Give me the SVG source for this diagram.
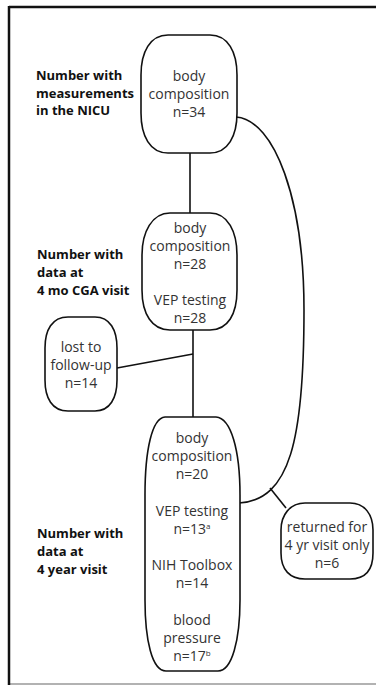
<svg xmlns="http://www.w3.org/2000/svg" width="376" height="686" viewBox="0 0 376 686">
<style>
.node{fill:#fff;stroke:#111;stroke-width:1.6}
.conn{fill:none;stroke:#111;stroke-width:1.6}
.t{font-family:"Open Sans","Liberation Sans",sans-serif;font-size:14px;fill:#333;text-anchor:middle}
.lab{font-family:"Open Sans","Liberation Sans",sans-serif;font-size:13px;font-weight:bold;fill:#111}
.sup{font-size:8px}
</style>
<rect x="0" y="0" width="376" height="686" fill="#fff"/>
<g id="frame">
<line x1="9" y1="684" x2="376" y2="684" stroke="#999" stroke-width="1.5"/>
<line x1="9" y1="7" x2="376" y2="7" stroke="#111" stroke-width="2.5"/>
<line x1="9" y1="6" x2="9" y2="685" stroke="#111" stroke-width="2.5"/>
</g>
<g id="labels">
<text class="lab" x="36" y="80">Number with</text>
<text class="lab" x="36" y="97.5">measurements</text>
<text class="lab" x="36" y="115">in the NICU</text>
<text class="lab" x="37" y="259">Number with</text>
<text class="lab" x="37" y="277">data at</text>
<text class="lab" x="37" y="295">4 mo CGA visit</text>
<text class="lab" x="37" y="538">Number with</text>
<text class="lab" x="37" y="556">data at</text>
<text class="lab" x="37" y="574">4 year visit</text>
</g>
<g id="connectors">
<line class="conn" x1="190" y1="153" x2="190" y2="213"/>
<line class="conn" x1="193" y1="330" x2="193" y2="417"/>
<line class="conn" x1="117" y1="368" x2="193" y2="354"/>
<path class="conn" d="M236 117 C275 120 304 200 304 310 C304 440 290 500 239 503"/>
<line class="conn" x1="270" y1="488" x2="286" y2="508"/>
</g>
<g id="nicu">
<path class="node" d="M168 35 L210 35 C228 35 237 52 237 75 L237 113 C237 136 228 153 210 153 L168 153 C150 153 141 136 141 113 L141 75 C141 52 150 35 168 35 Z"/>
<text class="t" x="189" y="81">body</text>
<text class="t" x="189" y="99">composition</text>
<text class="t" x="189" y="117">n=34</text>
</g>
<g id="fourmo">
<path class="node" d="M170 213 L210 213 C228 213 237 232 237 255 L237 290 C237 314 228 330 210 330 L170 330 C152 330 142 314 142 290 L142 255 C142 232 152 213 170 213 Z"/>
<text class="t" x="190" y="233">body</text>
<text class="t" x="190" y="251">composition</text>
<text class="t" x="190" y="269">n=28</text>
<text class="t" x="190" y="305">VEP testing</text>
<text class="t" x="190" y="323">n=28</text>
</g>
<g id="lost">
<path class="node" d="M68 317 L95 317 C110 317 117 330 117 348 L117 380 C117 398 110 411 95 411 L68 411 C52 411 45 398 45 380 L45 348 C45 330 52 317 68 317 Z"/>
<text class="t" x="81" y="352">lost to</text>
<text class="t" x="81" y="370">follow-up</text>
<text class="t" x="81" y="388">n=14</text>
</g>
<g id="fouryr">
<path class="node" d="M165 417 L216 417 C231 418 240 450 240 495 L240 600 C240 640 232 671 218 671 L166 671 C152 671 145 640 145 600 L145 495 C145 450 152 418 165 417 Z"/>
<text class="t" x="192" y="443">body</text>
<text class="t" x="192" y="461">composition</text>
<text class="t" x="192" y="479">n=20</text>
<text class="t" x="192" y="516">VEP testing</text>
<text class="t" x="192" y="534">n=13<tspan class="sup" dy="-5">a</tspan></text>
<text class="t" x="192" y="570">NIH Toolbox</text>
<text class="t" x="192" y="588">n=14</text>
<text class="t" x="192" y="625">blood</text>
<text class="t" x="192" y="643">pressure</text>
<text class="t" x="192" y="661">n=17<tspan class="sup" dy="-5">b</tspan></text>
</g>
<g id="returned">
<path class="node" d="M305 503 L350 503 C365 503 373 515 373 530 L373 553 C373 570 365 579 350 579 L305 579 C290 579 281 570 281 553 L281 530 C281 515 290 503 305 503 Z"/>
<text class="t" x="327" y="532">returned for</text>
<text class="t" x="327" y="550">4 yr visit only</text>
<text class="t" x="327" y="568">n=6</text>
</g>
</svg>
